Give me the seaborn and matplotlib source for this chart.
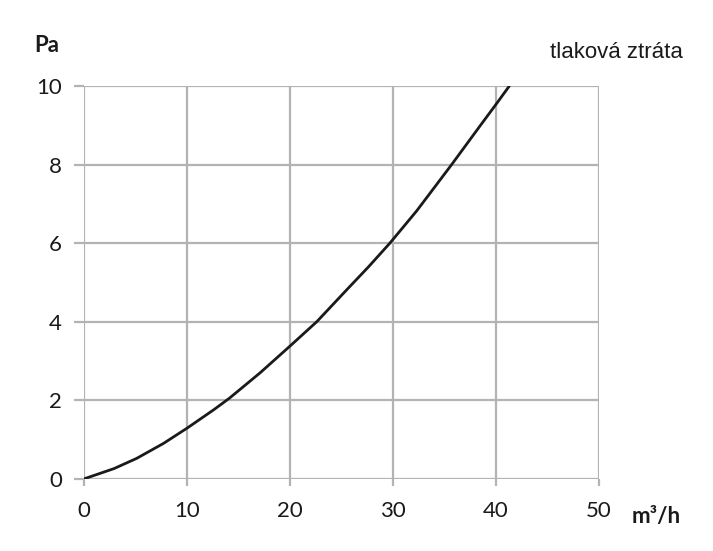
import matplotlib
matplotlib.use("Agg")
import matplotlib.pyplot as plt
import seaborn as sns
import pandas as pd

# flow (m3/h) vs pressure loss (Pa)
flow = [0, 2.9, 5.1, 7.7, 10, 12.6, 14.1, 17.1, 20, 22.6, 25.5, 27.6,
        29.7, 32.3, 35.7, 38.5, 40, 41.3]
pressure = [0, 0.26, 0.52, 0.9, 1.29, 1.76, 2.05, 2.7, 3.38, 4.0, 4.81, 5.39,
            6.0, 6.82, 8.0, 9.0, 9.53, 10.0]
x_ticks = [0, 10, 20, 30, 40, 50]
y_ticks = [0, 2, 4, 6, 8, 10]

df = pd.DataFrame({"flow": flow, "pressure": pressure})

sns.set_style("white")
plt.rcParams["font.family"] = ["Lato", "DejaVu Sans"]

fig = plt.figure(figsize=(7.13, 5.51), dpi=100)
ax = fig.add_axes([0.118, 0.131, 0.722, 0.713])

sns.lineplot(data=df, x="flow", y="pressure", ax=ax, color="#1a1a1a",
             linewidth=2.0, estimator=None, sort=False)

ax.set_xlim(0, 50)
ax.set_ylim(0, 10)
ax.set_xticks(x_ticks)
ax.set_yticks(y_ticks)
ax.grid(True, color="#b3b3b3", linewidth=1.6)
ax.set_axisbelow(True)
for s in ax.spines.values():
    s.set_visible(False)

ax.tick_params(axis="x", length=5, width=1.6, color="#b3b3b3", pad=11,
               labelsize=16, labelcolor="#1a1a1a", direction="out", bottom=True)
ax.tick_params(axis="y", length=7, width=1.6, color="#b3b3b3", pad=9,
               labelsize=16, labelcolor="#1a1a1a", direction="out", left=True)
ax.set_xlabel("")
ax.set_ylabel("")

fig.text(47 / 713, 1 - 46 / 551, "Pa", fontsize=16, fontweight="bold",
         ha="center", va="center", color="#1a1a1a")
fig.text(656 / 713, 1 - 516 / 551, "m³/h", fontsize=16, fontweight="bold",
         ha="center", va="center", color="#1a1a1a")
fig.text(616 / 713, 1 - 52 / 551, "tlaková ztráta", fontsize=16,
         family="Liberation Sans", ha="center", va="center", color="#1a1a1a")

fig.savefig("out.png", dpi=100, facecolor="white")
